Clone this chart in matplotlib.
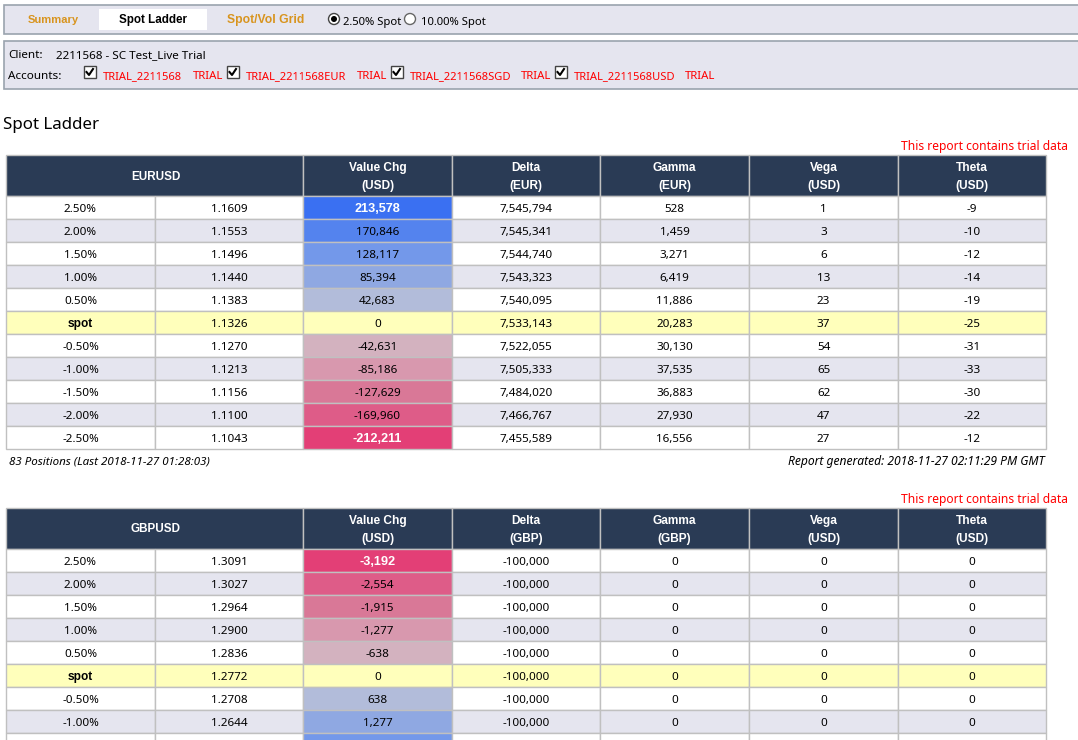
import matplotlib
matplotlib.use("Agg")
import matplotlib.pyplot as plt
from matplotlib.patches import Rectangle, Circle

plt.rcParams['font.family'] = ['Noto Sans', 'DejaVu Sans']

# ---- data ----
shifts = ["2.50%", "2.00%", "1.50%", "1.00%", "0.50%", "spot",
          "-0.50%", "-1.00%", "-1.50%", "-2.00%", "-2.50%"]
headers_eur = [("Value Chg", "(USD)"), ("Delta", "(EUR)"), ("Gamma", "(EUR)"), ("Vega", "(USD)"), ("Theta", "(USD)")]
headers_gbp = [("Value Chg", "(USD)"), ("Delta", "(GBP)"), ("Gamma", "(GBP)"), ("Vega", "(USD)"), ("Theta", "(USD)")]

eur_spot = ["1.1609", "1.1553", "1.1496", "1.1440", "1.1383", "1.1326", "1.1270", "1.1213", "1.1156", "1.1100", "1.1043"]
eur_value = [213578, 170846, 128117, 85394, 42683, 0, -42631, -85186, -127629, -169960, -212211]
eur_delta = [7545794, 7545341, 7544740, 7543323, 7540095, 7533143, 7522055, 7505333, 7484020, 7466767, 7455589]
eur_gamma = [528, 1459, 3271, 6419, 11886, 20283, 30130, 37535, 36883, 27930, 16556]
eur_vega = [1, 3, 6, 13, 23, 37, 54, 65, 62, 47, 27]
eur_theta = [-9, -10, -12, -14, -19, -25, -31, -33, -30, -22, -12]

gbp_spot = ["1.3091", "1.3027", "1.2964", "1.2900", "1.2836", "1.2772", "1.2708", "1.2644"]
gbp_value = [-3192, -2554, -1915, -1277, -638, 0, 638, 1277]
gbp_delta = [-100000] * 8
gbp_gamma = [0] * 8
gbp_vega = [0] * 8
gbp_theta = [0] * 8
gbp_next_value = 1915

accounts = ["TRIAL_2211568", "TRIAL_2211568EUR", "TRIAL_2211568SGD", "TRIAL_2211568USD"]

# ---- style ----
W, H = 1078, 740
COLX = [6, 155, 303, 452, 600, 749, 898, 1046]
HEAD_H, ROW_H = 41, 23
NAVY = "#2a3b55"
BAND = "#e5e5ef"
SPOT = "#ffffbb"
GRID = "#c0c0c0"
PANEL_EDGE = "#9aa3ae"
BLUES = ["#b2bcda", "#8fa8e2", "#7398ea", "#5483ee", "#3a70f2"]
REDS = ["#d3b2bf", "#d898ae", "#d97897", "#de5c88", "#e33f76"]
FS = 8.4
BOLD = dict(family=["Liberation Sans", "DejaVu Sans"], fontweight="bold")

fig = plt.figure(figsize=(W / 100, H / 100), dpi=100)
ax = fig.add_axes([0, 0, 1, 1])
ax.set_xlim(0, W)
ax.set_ylim(H, 0)
ax.axis("off")


def T(x, y, s, color="black", ha="center", size=FS, **kw):
    """Text placed by its baseline."""
    ax.text(x, y, s, color=color, ha=ha, va="baseline", fontsize=size, **kw)


def cell(x0, x1, y0, y1, fc):
    ax.add_patch(Rectangle((x0, y0), x1 - x0, y1 - y0, fc=fc, ec=GRID, lw=1))


def panel(y0, y1):
    ax.add_patch(Rectangle((3.5, y0), W + 4, y1 - y0, fc=BAND, ec=PANEL_EDGE, lw=1.2))


def value_fill(v, top):
    if v == 0:
        return None
    level = min(4, max(0, round(abs(v) / top * 5) - 1))
    return (BLUES if v > 0 else REDS)[level]


def checkbox(x, y):
    ax.add_patch(Rectangle((x, y), 12, 12, fc="white", ec="#444444", lw=1))
    ax.plot([x + 3, x + 5.5, x + 9.5], [y + 6, y + 9, y + 3], color="black", lw=1.5)


def table(y0, name, heads, spots, values, deltas, gammas, vegas, thetas, top):
    cell(COLX[0], COLX[2], y0, y0 + HEAD_H, NAVY)
    T((COLX[0] + COLX[2]) / 2 + 1, y0 + 24.5, name, color="white", size=8.4, **BOLD)
    for i, (a, b) in enumerate(heads):
        cell(COLX[i + 2], COLX[i + 3], y0, y0 + HEAD_H, NAVY)
        cx = (COLX[i + 2] + COLX[i + 3]) / 2
        T(cx, y0 + 16, a, color="white", size=8.6, **BOLD)
        T(cx, y0 + 34, b, color="white", size=8.6, **BOLD)
    for r, sp in enumerate(spots):
        y = y0 + HEAD_H + r * ROW_H
        is_spot = shifts[r] == "spot"
        bg = SPOT if is_spot else (BAND if r % 2 else "white")
        vc = value_fill(values[r], top) or bg
        strong = abs(values[r]) >= top * 0.95
        texts = [shifts[r], sp, f"{values[r]:,}", f"{deltas[r]:,}", f"{gammas[r]:,}", f"{vegas[r]:,}", f"{thetas[r]:,}"]
        for c, s in enumerate(texts):
            cell(COLX[c], COLX[c + 1], y, y + ROW_H, vc if c == 2 else bg)
            cx = (COLX[c] + COLX[c + 1]) / 2
            if c == 2 and strong:
                T(cx, y + 16, s, color="white", size=9.2, **BOLD)
            elif c == 0 and is_spot:
                T(cx, y + 16, s, size=8.6, **BOLD)
            else:
                T(cx, y + 16, s)


# top bar
panel(4.5, 33.5)
ax.add_patch(Rectangle((99, 9), 108, 21, fc="white", ec="none"))
T(53, 23, "Summary", color="#d8941e", size=8.0, **BOLD)
T(153, 23, "Spot Ladder", size=8.4, **BOLD)
T(265.5, 23, "Spot/Vol Grid", color="#d8941e", size=8.7, **BOLD)
ax.add_patch(Circle((334, 19), 5.5, fc="white", ec="#444444", lw=1))
ax.add_patch(Circle((334, 19), 3, fc="black", ec="none"))
T(343, 25, "2.50% Spot", ha="left", size=8.1)
ax.add_patch(Circle((410, 19), 5.5, fc="white", ec="#666666", lw=1))
T(421, 25, "10.00% Spot", ha="left", size=8.1)

# client panel
panel(40.5, 88.5)
T(8, 58, "Client:", ha="left")
T(56, 58, "2211568 - SC Test_Live Trial", ha="left")
T(8, 79, "Accounts:", ha="left")
box_x = [83.5, 226.5, 390.5, 554.5]
for bx, name in zip(box_x, accounts):
    checkbox(bx, 66)
    T(bx + 19.5, 79, name, color="red", ha="left", size=8.0)
for tx in [193, 357, 521, 685]:
    T(tx, 79, "TRIAL", color="red", ha="left", size=8.2)

T(3, 129, "Spot Ladder", ha="left", size=12.2)
T(1068, 150, "This report contains trial data", color="red", ha="right", size=8.7)

table(155, "EURUSD", headers_eur, eur_spot, eur_value, eur_delta, eur_gamma, eur_vega, eur_theta, 213578)

T(9, 465, "83 Positions (Last 2018-11-27 01:28:03)", ha="left", style="italic", size=8.3)
T(1045, 465, "Report generated: 2018-11-27 02:11:29 PM GMT", ha="right", style="italic", size=8.7)

T(1068, 503, "This report contains trial data", color="red", ha="right", size=8.7)

table(508, "GBPUSD", headers_gbp, gbp_spot, gbp_value, gbp_delta, gbp_gamma, gbp_vega, gbp_theta, 3192)

# partial row cut off by the page edge
y_last = 508 + HEAD_H + 8 * ROW_H
for c in range(7):
    fill = value_fill(gbp_next_value, 3192) if c == 2 else "white"
    cell(COLX[c], COLX[c + 1], y_last, y_last + ROW_H, fill)

fig.savefig("out.png", dpi=100)
